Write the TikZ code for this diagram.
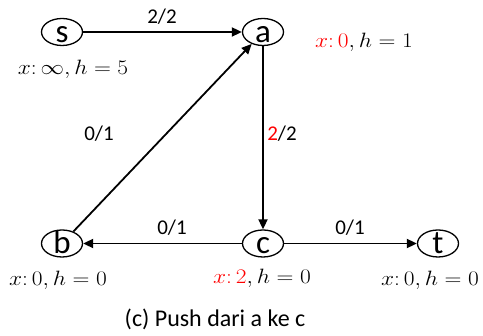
\documentclass[tikz,border=0pt]{standalone}
\usepackage{fontspec}
\setmainfont{Carlito}
\usetikzlibrary{arrows.meta,shapes.geometric}
\newcommand{\vtxt}[1]{\raisebox{-10.5pt}[0pt][0pt]{\makebox[0pt]{#1}}}
\newcommand{\mwide}[1]{\scalebox{1.13}[1]{#1}}
\begin{document}
\begin{tikzpicture}[x=1pt,y=-1pt,
  vert/.style={draw,ellipse,line width=1.3pt,minimum width=41pt,minimum height=27pt,inner sep=0pt,font=\fontsize{33}{33}\selectfont},
  edge/.style={line width=1.8pt,-{Triangle[length=10pt,width=9pt]}},
  elab/.style={font=\fontsize{21}{21}\selectfont},
  clab/.style={font=\fontsize{24}{24}\selectfont},
  mlab/.style={font=\fontsize{21}{21}\selectfont}]
\useasboundingbox (0,0) rectangle (483,336);
\node[vert] (s) at (62,32) {\vtxt{s}};
\node[vert] (a) at (263,32) {\vtxt{a}};
\node[vert] (b) at (62,243.5) {\vtxt{b}};
\node[vert] (c) at (263,243.5) {\vtxt{c}};
\node[vert] (t) at (438,243.5) {\vtxt{t}};
\draw[edge] (s) -- (a);
\draw[edge] (b) -- (a);
\draw[edge] (a) -- (c);
\draw[edge] (c) -- (b);
\draw[edge] (c) -- (t);
\node[elab] (l1) at (162,17) {2/2};
\node[elab] (l2) at (99,134) {0/1};
\node[elab] (l3) at (282,134) {\textcolor{red}{2}/2};
\node[elab] (l4) at (172,228) {0/1};
\node[elab] (l5) at (350,228) {0/1};
\node[mlab] (ms) at (73,69) {\mwide{$x\colon\infty, h=5$}};
\node[mlab] (ma) at (364,42) {\mwide{\textcolor{red}{$x\colon 0$}$, h=1$}};
\node[mlab] (mb) at (58,280) {\mwide{$x\colon 0, h=0$}};
\node[mlab] (mc) at (262,278) {\mwide{\textcolor{red}{$x\colon 2$}$, h=0$}};
\node[mlab] (mt) at (430,280) {\mwide{$x\colon 0, h=0$}};
\node[clab] (cap) at (215,319) {(c) Push dari a ke c};
\end{tikzpicture}
\end{document}
